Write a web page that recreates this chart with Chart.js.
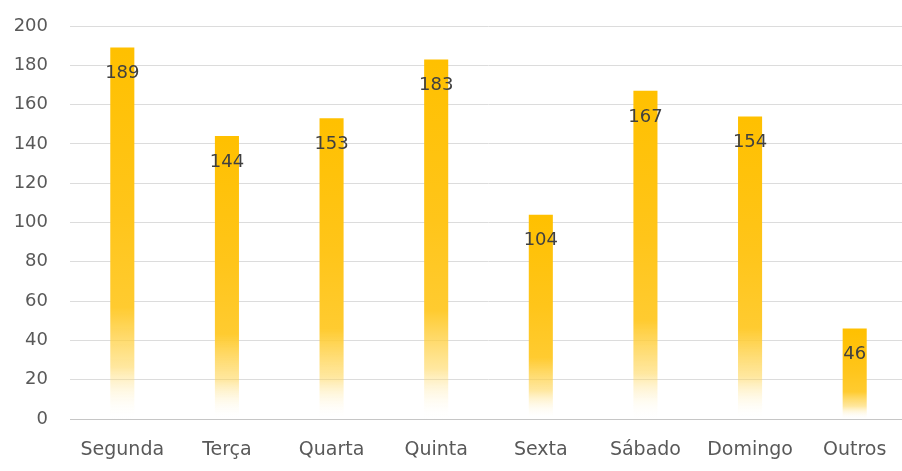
<!DOCTYPE html>
<html lang="pt">
<head>
<meta charset="utf-8">
<title>Dias da semana</title>
<script src="https://cdn.jsdelivr.net/npm/chart.js@4.4.1/dist/chart.umd.min.js"></script>
<style>
  html, body { margin: 0; padding: 0; background: #fff; overflow: hidden; }
  .chart-container { position: relative; width: 912px; height: 471px; }
</style>
</head>
<body>
<div class="chart-container"><canvas id="chart-dias"></canvas></div>
<script>
const dias = ['Segunda', 'Terça', 'Quarta', 'Quinta', 'Sexta', 'Sábado', 'Domingo', 'Outros'];
const totais = [189, 144, 153, 183, 104, 167, 154, 46];
const yTicks = [0, 20, 40, 60, 80, 100, 120, 140, 160, 180, 200];

const fontFamily = "'DejaVu Sans', sans-serif";
const tickColor = '#595959';
const labelColor = '#404040';

// gold at the top of each bar, fading to white at its base
function barGradient(context) {
  const chart = context.chart;
  const yScale = chart.scales.y;
  if (!chart.chartArea || !yScale || context.parsed == null) return '#FFC000';
  const top = yScale.getPixelForValue(context.parsed.y);
  const base = yScale.getPixelForValue(0);
  if (!isFinite(top) || !isFinite(base) || base === top) return '#FFC000';
  const g = chart.ctx.createLinearGradient(0, top, 0, base);
  g.addColorStop(0, '#FFC000');
  g.addColorStop(0.45, '#FFC51A');
  g.addColorStop(0.7, '#FFCB30');
  g.addColorStop(0.86, 'rgba(255, 212, 80, 0.55)');
  g.addColorStop(1, 'rgba(255, 255, 255, 0)');
  return g;
}

// value printed just inside the top of each bar
const valueLabels = {
  id: 'valueLabels',
  afterDatasetsDraw(chart) {
    const ctx = chart.ctx;
    const meta = chart.getDatasetMeta(0);
    ctx.save();
    ctx.font = '18px ' + fontFamily;
    ctx.fillStyle = labelColor;
    ctx.textAlign = 'center';
    ctx.textBaseline = 'middle';
    meta.data.forEach((bar, i) => {
      ctx.fillText(String(totais[i]), bar.x, bar.y + 26);
    });
    ctx.restore();
  }
};

new Chart(document.getElementById('chart-dias'), {
  type: 'bar',
  data: {
    labels: dias,
    datasets: [{
      data: totais,
      backgroundColor: barGradient,
      borderWidth: 0,
      categoryPercentage: 1,
      barPercentage: 0.23
    }]
  },
  options: {
    responsive: true,
    maintainAspectRatio: false,
    animation: false,
    layout: { padding: { top: 26, right: 5, left: 0, bottom: 0 } },
    plugins: {
      legend: { display: false },
      tooltip: { enabled: false }
    },
    scales: {
      x: {
        grid: { display: false, drawTicks: false },
        border: { display: true, color: '#c6c6c6', width: 1 },
        ticks: {
          color: tickColor,
          font: { family: fontFamily, size: 19 },
          padding: 20,
          maxRotation: 0
        },
        afterFit: (scale) => { scale.height = 52; }
      },
      y: {
        min: 0,
        max: 200,
        afterBuildTicks: (scale) => { scale.ticks = yTicks.map(v => ({ value: v })); },
        grid: { color: '#dcdcdc', lineWidth: 1, drawTicks: false },
        border: { display: false },
        ticks: {
          color: tickColor,
          font: { family: fontFamily, size: 18 },
          padding: 22
        },
        afterFit: (scale) => {
          scale.width = 70;
          // tick padding otherwise pushes the plot area down
          scale.paddingTop = 0;
          scale.paddingBottom = 0;
        }
      }
    }
  },
  plugins: [valueLabels]
});
</script>
</body>
</html>
